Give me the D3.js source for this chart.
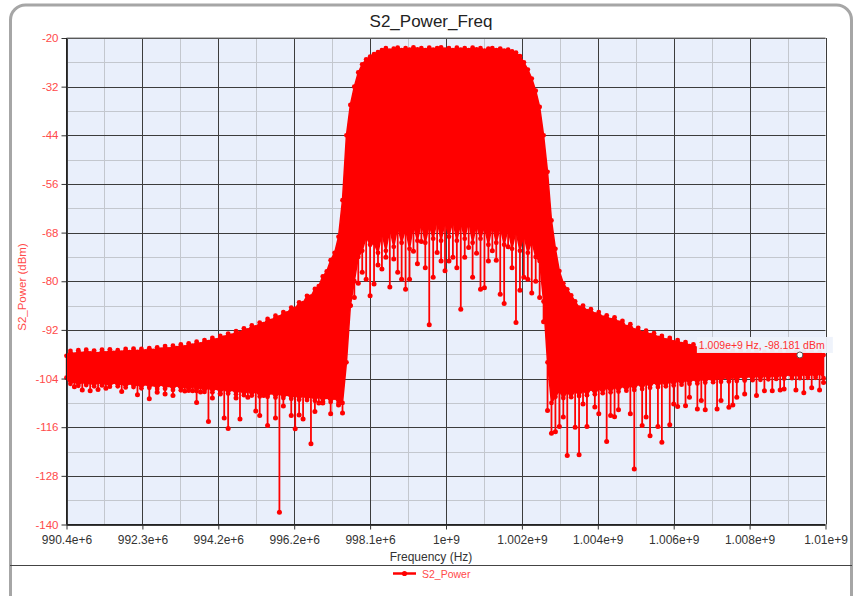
<!DOCTYPE html>
<html>
<head>
<meta charset="utf-8">
<script src="https://d3js.org/d3.v7.min.js"></script>
<title>S2_Power_Freq</title>
<style type="text/css">
body {
  margin: 0;
  background: #fff;
  font-family: "Liberation Sans", Arial, sans-serif;
}
.axis text { font-family: "Liberation Sans", Arial, sans-serif; }
.axis path.domain { display: none; }
</style>
</head>
<body>
<svg id="chart" width="855" height="596"></svg>

<script>
// sweep is binned every 0.1 MHz from 990.4 MHz, top and bottom of the dense band per bin
var binStartMHz = 990.4, binStepMHz = 0.1;

var bandTopDbm = [
  -98.4, -97.2, -98.1, -97.0, -97.9, -96.9, -97.8, -97.1, -98.0, -96.9,
  -97.8, -96.8, -97.7, -97.0, -97.6, -96.7, -97.5, -96.6, -97.4, -96.7,
  -97.3, -96.5, -97.2, -96.3, -96.9, -96.0, -96.8, -95.9, -96.5, -95.6,
  -96.3, -95.3, -95.9, -94.9, -95.6, -94.5, -95.0, -94.0, -94.6, -93.5,
  -93.9, -92.9, -93.4, -92.3, -92.8, -91.6, -92.1, -90.9, -91.4, -90.2,
  -90.6, -89.3, -89.8, -88.5, -88.9, -87.6, -87.9, -86.5, -86.8, -85.2,
  -85.4, -83.6, -83.8, -81.9, -81.2, -78.8, -77.6, -74.8, -73.0, -69.0,
  -60.0, -44.0, -36.5, -32.0, -28.5, -26.5, -25.3, -24.6, -24.0, -23.5,
  -23.0, -22.5, -23.1, -22.6, -22.4, -23.0, -22.5, -22.9, -22.3, -22.8,
  -22.5, -23.0, -22.4, -22.9, -22.5, -22.3, -22.9, -22.5, -23.0, -22.4,
  -22.9, -22.5, -23.0, -22.4, -22.8, -22.5, -23.1, -22.6, -22.5, -23.0,
  -22.6, -23.1, -22.9, -23.3, -23.6, -24.5, -26.0, -27.8, -30.0, -33.0,
  -37.0, -44.0, -53.0, -65.0, -72.0, -77.5, -80.5, -82.0, -83.5, -85.0,
  -86.5, -86.0, -87.4, -86.9, -88.2, -87.6, -89.0, -88.4, -89.6, -88.9,
  -90.2, -89.8, -91.3, -90.6, -92.1, -91.5, -92.8, -92.2, -93.3, -92.8,
  -94.0, -93.5, -94.6, -94.0, -95.1, -94.5, -95.5, -95.0, -96.0, -95.6,
  -96.6, -96.1, -97.0, -96.5, -97.3, -96.8, -97.6, -97.0, -97.8, -97.1,
  -97.9, -97.2, -98.0, -97.3, -97.9, -97.2, -98.1, -97.4, -97.9, -97.2,
  -98.0, -97.3, -98.1, -97.2, -97.9, -97.4, -98.2, -97.3, -98.0, -97.4,
  -98.0, -97.5, -98.2
];

var bandBottomDbm = [
  -103.8, -105.3, -104.6, -105.8, -104.7, -105.6, -104.9, -105.9, -104.8, -105.7,
  -105.0, -106.0, -104.8, -105.9, -105.1, -106.2, -105.0, -106.1, -105.3, -106.4,
  -105.2, -106.3, -105.4, -106.6, -105.3, -106.5, -105.6, -106.8, -105.5, -106.9,
  -105.8, -107.0, -105.7, -107.1, -106.0, -107.3, -106.1, -107.4, -106.3, -107.6,
  -106.4, -107.7, -106.6, -107.9, -106.7, -108.1, -106.9, -108.2, -107.0, -108.4,
  -107.2, -108.5, -107.4, -108.7, -107.5, -108.8, -107.8, -109.0, -107.9, -109.2,
  -108.0, -109.3, -108.2, -109.5, -108.3, -109.6, -108.5, -109.8, -108.7, -110.0,
  -110.0, -100.0, -86.0, -80.0, -74.0, -72.5, -69.0, -71.0, -70.5, -73.0,
  -68.0, -72.5, -67.0, -71.5, -66.5, -70.5, -67.0, -72.0, -66.0, -70.0,
  -65.5, -70.5, -66.0, -69.5, -65.0, -70.0, -65.5, -69.0, -65.0, -70.0,
  -65.5, -69.5, -65.0, -70.5, -66.0, -69.5, -66.5, -71.0, -66.0, -70.5,
  -66.5, -71.0, -67.0, -72.0, -67.5, -72.5, -68.5, -73.0, -70.0, -74.0,
  -75.0, -85.0, -100.0, -110.0, -108.5, -107.0, -108.8, -107.2, -108.6, -106.9,
  -108.3, -106.8, -108.1, -106.5, -107.9, -106.3, -107.6, -106.0, -107.4, -105.9,
  -107.2, -105.7, -107.0, -105.5, -106.8, -105.2, -106.6, -105.0, -106.3, -104.8,
  -106.1, -104.7, -105.9, -104.5, -105.7, -104.3, -105.5, -104.2, -105.3, -104.0,
  -105.2, -103.9, -105.0, -103.8, -104.9, -103.6, -104.8, -103.5, -104.7, -103.4,
  -104.6, -103.3, -104.5, -103.2, -104.4, -103.1, -104.3, -103.0, -104.2, -103.0,
  -104.1, -102.9, -104.0, -102.8, -103.9, -102.8, -103.9, -102.7, -103.8, -102.7,
  -103.8, -102.6, -103.9
];

// single samples that drop below the band
var spikeFreqMHz = [
  990.6, 990.8, 991.0, 991.2, 991.4, 991.8, 992.2, 992.5, 992.7, 992.9,
  993.1, 993.4, 993.6, 993.7, 993.8, 994.0, 994.1, 994.3, 994.4, 994.5,
  994.7, 994.8, 995.0, 995.2, 995.3, 995.4, 995.5, 995.7, 995.8, 995.9,
  996.1, 996.2, 996.3, 996.4, 996.6, 996.7, 996.8, 996.9, 997.1, 997.3,
  997.4,
  997.6, 997.7, 997.8, 997.9, 998.0, 998.1, 998.2, 998.3, 998.4, 998.5,
  998.6, 998.7, 998.8, 998.9, 999.0, 999.1, 999.2, 999.3, 999.4, 999.5,
  999.6, 999.7, 999.8, 999.9, 1000.0, 1000.1, 1000.2, 1000.3, 1000.4, 1000.5,
  1000.6, 1000.7, 1000.8, 1000.9, 1001.0, 1001.1, 1001.2, 1001.3, 1001.4, 1001.5,
  1001.6, 1001.7, 1001.8, 1001.9, 1002.0, 1002.1, 1002.2, 1002.3, 1002.4, 1002.5,
  1002.6, 1002.7, 1002.8, 1002.9, 1003.0, 1003.1, 1003.3, 1003.4, 1003.5, 1003.6,
  1003.8, 1003.9, 1004.1, 1004.2, 1004.3, 1004.4, 1004.7, 1004.8, 1005.0, 1005.1,
  1005.2, 1005.4, 1005.5, 1005.7, 1005.8, 1005.9, 1006.1, 1006.2, 1006.4, 1006.5,
  1006.6, 1006.9, 1007.0, 1007.2, 1007.3, 1007.4, 1007.6, 1007.9, 1008.1, 1008.3,
  1008.5, 1008.6, 1008.9, 1009.1, 1009.3, 1009.5, 1009.6
];
var spikeDbm = [
  -106.0, -106.8, -107.0, -106.7, -106.4, -107.2, -108.0, -109.0, -107.4, -107.8,
  -108.2, -107.1, -107.0, -109.9, -107.3, -114.6, -108.8, -107.8, -113.7, -116.3,
  -108.8, -114.0, -108.6, -112.0, -113.1, -108.2, -115.6, -113.7, -137.0, -110.8,
  -113.1, -116.4, -113.0, -114.0, -120.1, -112.1, -110.0, -110.0, -112.7, -110.5,
  -112.5,
  -86.0, -84.0, -80.5, -77.8, -79.5, -83.6, -80.7, -76.0, -77.0, -74.1,
  -81.4, -74.5, -77.8, -79.5, -82.0, -79.5, -72.6, -75.7, -70.2, -76.7,
  -90.7, -79.0, -72.9, -75.0, -77.4, -75.0, -74.1, -76.7, -86.9, -74.1,
  -71.7, -79.0, -73.1, -82.0, -81.6, -75.0, -72.5, -74.8, -83.2, -85.5,
  -71.5, -76.7, -90.2, -82.2, -79.0, -79.5, -82.9, -80.0, -84.0, -90.0,
  -111.9, -117.5, -117.1, -115.8, -113.5, -123.0, -116.0, -122.8, -110.3, -115.8,
  -111.0, -112.7, -119.5, -113.1, -113.4, -111.7, -112.7, -126.3, -115.6, -113.5,
  -118.1, -115.8, -119.7, -115.4, -110.3, -110.9, -110.7, -108.6, -111.5, -109.4,
  -111.7, -111.5, -109.4, -111.1, -110.5, -108.6, -107.8, -108.2, -107.0, -107.0,
  -106.8, -106.6, -106.8, -107.5, -106.3, -106.8, -105.0
];

var xTickHz = [990.4e6, 992.325e6, 994.25e6, 996.175e6, 998.1e6, 1000.025e6,
  1001.95e6, 1003.875e6, 1005.8e6, 1007.725e6, 1009.65e6];
var xTickLabels = ["990.4e+6", "992.3e+6", "994.2e+6", "996.2e+6", "998.1e+6", "1e+9",
  "1.002e+9", "1.004e+9", "1.006e+9", "1.008e+9", "1.01e+9"];
var yTicks = [-140, -128, -116, -104, -92, -80, -68, -56, -44, -32, -20];

// cursor readout
var markerFreqHz = 1.009e9, markerDbm = -98.181;

var red = "#ff0000",
    labelRed = "#ff4a4a";

var svg = d3.select("#chart");

var plot = {left: 66.5, right: 825.5, top: 38, bottom: 524.5};

var x = d3.scaleLinear()
  .domain([xTickHz[0], xTickHz[xTickHz.length - 1]])
  .range([plot.left, plot.right]);

var y = d3.scaleLinear()
  .domain([-140, -20])
  .range([plot.bottom, plot.top]);

var bins = bandTopDbm.map(function(t, i) {
  return {hz: (binStartMHz + i * binStepMHz) * 1e6, top: t, bottom: bandBottomDbm[i]};
});

var spikes = spikeFreqMHz.map(function(f, i) {
  var b = Math.round((f - binStartMHz) / binStepMHz);
  return {hz: f * 1e6, dbm: spikeDbm[i], from: bandBottomDbm[b]};
});

// outer frame
svg.append("rect")
  .attr("x", 10.5).attr("y", 5)
  .attr("width", 841).attr("height", 620)
  .attr("rx", 15)
  .attr("fill", "#fff")
  .attr("stroke", "#a6a6a6")
  .attr("stroke-width", 3);

svg.append("text")
  .attr("x", 431).attr("y", 27)
  .attr("text-anchor", "middle")
  .style("font-size", "17px")
  .attr("fill", "#222")
  .text("S2_Power_Freq");

// plot background
svg.append("rect")
  .attr("x", plot.left).attr("y", plot.top)
  .attr("width", plot.right - plot.left)
  .attr("height", plot.bottom - plot.top)
  .attr("fill", "#e9effb");

// minor grid halfway between the labelled ticks
var xMinor = d3.pairs(xTickHz).map(function(p) { return (p[0] + p[1]) / 2; });
var yMinor = d3.pairs(yTicks).map(function(p) { return (p[0] + p[1]) / 2; });

var grid = svg.append("g");
grid.selectAll(".xminor").data(xMinor).enter().append("line")
  .attr("x1", function(d) { return Math.round(x(d)) + 0.5; })
  .attr("x2", function(d) { return Math.round(x(d)) + 0.5; })
  .attr("y1", plot.top).attr("y2", plot.bottom)
  .attr("stroke", "#c3c7ce");
grid.selectAll(".yminor").data(yMinor).enter().append("line")
  .attr("y1", function(d) { return Math.round(y(d)) + 0.5; })
  .attr("y2", function(d) { return Math.round(y(d)) + 0.5; })
  .attr("x1", plot.left).attr("x2", plot.right)
  .attr("stroke", "#c3c7ce");
grid.selectAll(".xmajor").data(xTickHz).enter().append("line")
  .attr("x1", function(d) { return Math.round(x(d)) + 0.5; })
  .attr("x2", function(d) { return Math.round(x(d)) + 0.5; })
  .attr("y1", plot.top).attr("y2", plot.bottom)
  .attr("stroke", "#3c3c3c");
grid.selectAll(".ymajor").data(yTicks).enter().append("line")
  .attr("y1", function(d) { return Math.round(y(d)) + 0.5; })
  .attr("y2", function(d) { return Math.round(y(d)) + 0.5; })
  .attr("x1", plot.left).attr("x2", plot.right)
  .attr("stroke", "#3c3c3c");

// the trace
var traceLayer = svg.append("g");

var area = d3.area()
  .x(function(d) { return x(d.hz); })
  .y0(function(d) { return y(d.bottom); })
  .y1(function(d) { return y(d.top); });

traceLayer.append("path")
  .datum(bins)
  .attr("d", area)
  .attr("fill", red)
  .attr("stroke", red)
  .attr("stroke-width", 1.5)
  .attr("stroke-linejoin", "round");

traceLayer.selectAll(".spike").data(spikes).enter().append("line")
  .attr("x1", function(d) { return x(d.hz); })
  .attr("x2", function(d) { return x(d.hz); })
  .attr("y1", function(d) { return y(d.from); })
  .attr("y2", function(d) { return y(d.dbm); })
  .attr("stroke", red)
  .attr("stroke-width", 1.8);

traceLayer.selectAll(".topdot").data(bins).enter().append("circle")
  .attr("cx", function(d) { return x(d.hz); })
  .attr("cy", function(d) { return y(d.top); })
  .attr("r", 2.4)
  .attr("fill", red);

traceLayer.selectAll(".botdot").data(bins).enter().append("circle")
  .attr("cx", function(d) { return x(d.hz); })
  .attr("cy", function(d) { return y(d.bottom); })
  .attr("r", 2.4)
  .attr("fill", red);

traceLayer.selectAll(".spikedot").data(spikes).enter().append("circle")
  .attr("cx", function(d) { return x(d.hz); })
  .attr("cy", function(d) { return y(d.dbm); })
  .attr("r", 2.5)
  .attr("fill", red);

// axes
var xAxis = svg.append("g")
  .attr("class", "axis")
  .attr("transform", "translate(0," + plot.bottom + ")")
  .call(d3.axisBottom(x)
    .tickValues(xTickHz)
    .tickSize(5)
    .tickPadding(6)
    .tickFormat(function(d, i) { return xTickLabels[i]; }));
xAxis.selectAll("line").attr("stroke", "#333");
xAxis.selectAll("text").style("font-size", "12px").attr("fill", "#333");

var yAxis = svg.append("g")
  .attr("class", "axis")
  .attr("transform", "translate(" + plot.left + ",0)")
  .call(d3.axisLeft(y)
    .tickValues(yTicks)
    .tickSize(5)
    .tickPadding(3)
    .tickFormat(function(d) { return String(d); }));
yAxis.selectAll("line").attr("stroke", "#333");
yAxis.selectAll("text").style("font-size", "11.5px").attr("fill", labelRed);

// frame of the plot area
svg.append("line")
  .attr("x1", plot.left).attr("x2", plot.right)
  .attr("y1", plot.top).attr("y2", plot.top)
  .attr("stroke", "#777");
svg.append("line")
  .attr("x1", plot.left).attr("x2", plot.left)
  .attr("y1", plot.top).attr("y2", plot.bottom)
  .attr("stroke", "#222");
svg.append("line")
  .attr("x1", plot.left).attr("x2", plot.right)
  .attr("y1", plot.bottom).attr("y2", plot.bottom)
  .attr("stroke", "#222");

svg.append("text")
  .attr("x", 431).attr("y", 561)
  .attr("text-anchor", "middle")
  .style("font-size", "12px")
  .attr("fill", "#333")
  .text("Frequency (Hz)");

svg.append("text")
  .attr("transform", "translate(26,287) rotate(-90)")
  .attr("text-anchor", "middle")
  .style("font-size", "11.5px")
  .attr("fill", labelRed)
  .text("S2_Power (dBm)");

// cursor readout box
var mx = x(markerFreqHz), my = y(markerDbm);
svg.append("rect")
  .attr("x", mx - 103).attr("y", my - 18)
  .attr("width", 136).attr("height", 16)
  .attr("fill", "#eef2fb")
  .attr("opacity", 0.95);
svg.append("text")
  .attr("x", mx - 101).attr("y", my - 6)
  .style("font-size", "10.5px")
  .attr("fill", "#ff3030")
  .text(d3.format(".3e")(markerFreqHz) + " Hz, " + markerDbm + " dBm");
svg.append("circle")
  .attr("cx", mx).attr("cy", my)
  .attr("r", 3)
  .attr("fill", "#fff")
  .attr("stroke", "#555")
  .attr("stroke-width", 1);

// legend
svg.append("line")
  .attr("x1", 10).attr("x2", 852)
  .attr("y1", 565.5).attr("y2", 565.5)
  .attr("stroke", "#444");
svg.append("line")
  .attr("x1", 393).attr("x2", 416)
  .attr("y1", 573.5).attr("y2", 573.5)
  .attr("stroke", red)
  .attr("stroke-width", 2.5);
svg.append("circle")
  .attr("cx", 404.5).attr("cy", 573.5)
  .attr("r", 2.6)
  .attr("fill", red);
svg.append("text")
  .attr("x", 422).attr("y", 577.5)
  .style("font-size", "10.5px")
  .attr("fill", labelRed)
  .text("S2_Power");
</script>
</body>
</html>
